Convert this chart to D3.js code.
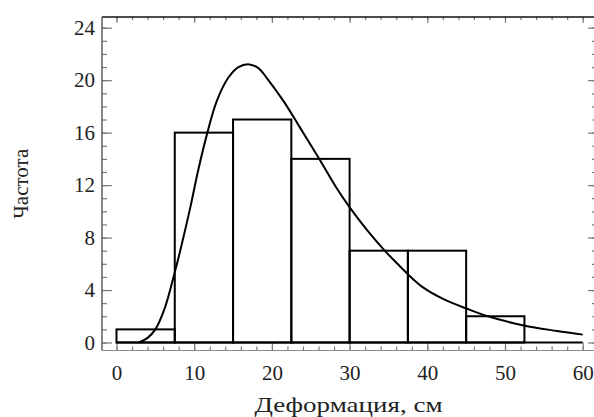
<!DOCTYPE html>
<html>
<head>
<meta charset="utf-8">
<script src="https://cdn.jsdelivr.net/npm/d3@7"></script>
<style>
    body { margin: 0; background: #fff; }
    svg { display: block; font-family: "Liberation Serif", "Times New Roman", serif; }
</style>
</head>
<body>
<div id="chart"></div>
<script>
// histogram bins (cm) and counts
const binEdges = [0, 7.5, 15, 22.5, 30, 37.5, 45, 52.5];
const counts = [1, 16, 17, 14, 7, 7, 2];

// fitted density curve
const curveX = [2.9, 4.0, 5.0, 6.2, 7.3, 8.2, 9.5, 10.5, 11.7, 12.9, 14.4, 15.7, 17.1, 18.3, 19.3,
    21.5, 23.6, 26.2, 28.3, 29.9, 32.2, 34.6, 36.5, 37.6, 39.5, 42.1, 45.2, 47.8, 52.4, 56.7, 60];
const curveY = [0, 0.35, 1.0, 2.6, 4.9, 7.0, 10.3, 13.1, 16.0, 18.4, 20.2, 21.0, 21.2, 20.9, 20.2,
    18.4, 16.4, 13.9, 11.8, 10.4, 8.6, 6.95, 5.8, 5.15, 4.18, 3.3, 2.55, 2.0, 1.3, 0.88, 0.6];

const xTicks = [0, 10, 20, 30, 40, 50, 60];
const xMinor = d3.range(0, 61, 2);
const yTicks = [0, 4, 8, 12, 16, 20, 24];
const yMinor = d3.range(0, 25, 1);

const xTitle = "Деформация, см";
const yTitle = "Частота";

const width = 594, height = 417;
const frameLeft = 102, frameTop = 17, frameRight = 595, frameBottom = 350.5;

const svg = d3.select("#chart").append("svg")
    .attr("width", width)
    .attr("height", height);

const x = d3.scaleLinear().domain([0, 60]).range([116.5, 582.7]);
const y = d3.scaleLinear().domain([0, 24]).range([342.5, 27.7]);

function styleAxis(g) {
    g.select(".domain").remove();
    g.selectAll(".tick line").attr("stroke", "#7a7a7a").attr("stroke-width", 1.2);
    g.selectAll(".tick text")
        .attr("fill", "#222")
        .attr("font-size", 21)
        .attr("font-family", "Liberation Serif, serif");
}

// minor ticks
svg.append("g").attr("transform", `translate(0,${frameBottom})`)
    .call(d3.axisBottom(x).tickValues(xMinor).tickSize(-4).tickFormat(""))
    .call(styleAxis);
svg.append("g").attr("transform", `translate(0,${frameTop})`)
    .call(d3.axisTop(x).tickValues(xMinor).tickSize(-3).tickFormat(""))
    .call(styleAxis);
svg.append("g").attr("transform", `translate(${frameLeft},0)`)
    .call(d3.axisLeft(y).tickValues(yMinor).tickSize(-5).tickFormat(""))
    .call(styleAxis);
svg.append("g").attr("transform", `translate(${frameRight},0)`)
    .call(d3.axisRight(y).tickValues(yMinor).tickSize(-3).tickFormat(""))
    .call(styleAxis);

// major ticks with labels
svg.append("g").attr("transform", `translate(0,${frameBottom})`)
    .call(d3.axisBottom(x).tickValues(xTicks).tickSize(-8).tickPadding(15).tickFormat(d3.format("d")))
    .call(styleAxis);
svg.append("g").attr("transform", `translate(0,${frameTop})`)
    .call(d3.axisTop(x).tickValues(xTicks).tickSize(-6).tickFormat(""))
    .call(styleAxis);
svg.append("g").attr("transform", `translate(${frameLeft},0)`)
    .call(d3.axisLeft(y).tickValues(yTicks).tickSize(-10).tickPadding(7).tickFormat(d3.format("d")))
    .call(styleAxis);
svg.append("g").attr("transform", `translate(${frameRight},0)`)
    .call(d3.axisRight(y).tickValues(yTicks).tickSize(-7).tickFormat(""))
    .call(styleAxis);

// frame
svg.append("line").attr("x1", frameLeft).attr("x2", frameRight).attr("y1", frameTop).attr("y2", frameTop)
    .attr("stroke", "#111").attr("stroke-width", 1.6);
svg.append("line").attr("x1", frameLeft).attr("x2", frameLeft).attr("y1", frameTop).attr("y2", frameBottom)
    .attr("stroke", "#555").attr("stroke-width", 1.4);
svg.append("line").attr("x1", frameLeft).attr("x2", frameRight).attr("y1", frameBottom).attr("y2", frameBottom)
    .attr("stroke", "#8a8a8a").attr("stroke-width", 1.2);

// baseline at zero
svg.append("line")
    .attr("x1", x(0)).attr("x2", x(60))
    .attr("y1", y(0)).attr("y2", y(0))
    .attr("stroke", "#000").attr("stroke-width", 2);

// bars
const bins = counts.map((c, i) => ({ x0: binEdges[i], x1: binEdges[i + 1], count: c }));
svg.append("g")
    .selectAll("rect")
    .data(bins)
    .join("rect")
    .attr("x", d => x(d.x0))
    .attr("y", d => y(d.count))
    .attr("width", d => x(d.x1) - x(d.x0))
    .attr("height", d => y(0) - y(d.count))
    .attr("fill", "none")
    .attr("stroke", "#000")
    .attr("stroke-width", 2);

// curve
const line = d3.line()
    .x(d => x(d[0]))
    .y(d => y(d[1]))
    .curve(d3.curveCatmullRom);

svg.append("path")
    .datum(curveX.map((v, i) => [v, curveY[i]]))
    .attr("d", line)
    .attr("fill", "none")
    .attr("stroke", "#000")
    .attr("stroke-width", 2);

// titles
svg.append("text")
    .attr("x", (frameLeft + frameRight) / 2)
    .attr("y", 412)
    .attr("text-anchor", "middle")
    .attr("font-size", 22)
    .attr("textLength", 188)
    .attr("lengthAdjust", "spacingAndGlyphs")
    .attr("fill", "#222")
    .text(xTitle);

svg.append("text")
    .attr("transform", `translate(28,${(frameTop + frameBottom) / 2}) rotate(-90)`)
    .attr("text-anchor", "middle")
    .attr("font-size", 21)
    .attr("fill", "#222")
    .text(yTitle);
</script>
</body>
</html>
